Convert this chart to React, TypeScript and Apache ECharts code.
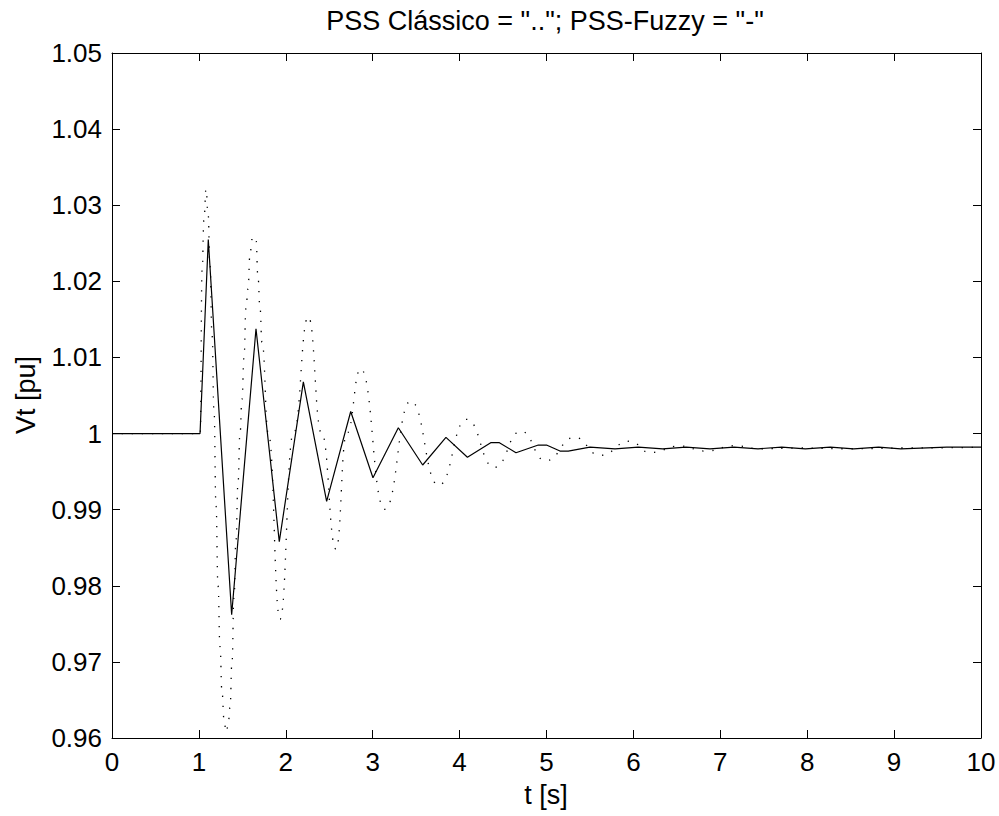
import React, { useEffect, useRef } from "react";
import * as echarts from "echarts";

const FONT = '"Liberation Sans", Arial, sans-serif';
const titleText = 'PSS Clássico = ".."; PSS-Fuzzy = "-"';
const xAxisName = "t [s]";
const yAxisName = "Vt [pu]";

// PSS Clássico (dotted)
const classicT = [
  0, 1.0, 1.015, 1.037, 1.058, 1.082, 1.105, 1.128, 1.151, 1.174, 1.197, 1.22, 1.243, 1.266, 1.289,
  1.312, 1.335, 1.358, 1.381, 1.404, 1.427, 1.45, 1.473, 1.496, 1.519, 1.542, 1.565, 1.588, 1.611,
  1.634, 1.657, 1.68, 1.703, 1.726, 1.799, 1.933, 2.087, 2.259, 2.413, 2.578, 2.7, 2.862, 3.138,
  3.437, 3.759, 4.081, 4.4, 4.706, 4.99, 5.324, 5.616, 5.96, 6.19, 6.54, 6.824, 7.169, 7.45, 7.9,
  8.5, 9.1, 10,
];
const classicV = [
  1.0, 1.0, 1.0, 1.0215, 1.028, 1.0321, 1.029, 1.022, 1.013, 1.003, 0.9905, 0.98, 0.972, 0.966,
  0.9625, 0.9608, 0.9615, 0.964, 0.97, 0.9785, 0.986, 0.9935, 1.0, 1.0045, 1.01, 1.0165, 1.019,
  1.0235, 1.0255, 1.0259, 1.0255, 1.0205, 1.0165, 1.012, 1.0, 0.9756, 1.0, 1.01535, 1.0, 0.9848,
  1.0, 1.0085, 0.99005, 1.00427, 0.9932, 1.00186, 0.99556, 1.0003, 0.99643, 0.9995, 0.99714,
  0.999, 0.9975, 0.99836, 0.9977, 0.9984, 0.998, 0.9981, 0.998, 0.9981, 0.9982,
];

// PSS-Fuzzy (solid)
const fuzzyT = [
  0, 1.013, 1.108, 1.377, 1.657, 1.925, 2.202, 2.47, 2.747, 3.003, 3.295, 3.575, 3.843, 4.09,
  4.358, 4.458, 4.649, 4.906, 5.0, 5.155, 5.25, 5.5, 5.788, 6.057, 6.337, 6.605, 6.881, 7.158,
  7.434, 7.707, 7.979, 8.266, 8.535, 8.822, 9.077, 9.605, 10,
];
const fuzzyV = [
  1.0, 1.0, 1.0255, 0.9762, 1.01377, 0.9858, 1.0068, 0.9911, 1.0029, 0.9942, 1.00076, 0.99587,
  0.9995, 0.99688, 0.9988, 0.9988, 0.99748, 0.99849, 0.99849, 0.9977, 0.9977, 0.99822, 0.998,
  0.99822, 0.998, 0.99822, 0.998, 0.99822, 0.998, 0.99822, 0.998, 0.99822, 0.998, 0.99822, 0.998,
  0.99822, 0.99822,
];

const zip = (a: number[], b: number[]) => a.map((t, i) => [t, b[i]]);

export default function App() {
  const ref = useRef<HTMLDivElement>(null);
  useEffect(() => {
    if (!ref.current) return;
    const chart = echarts.init(ref.current, undefined, { renderer: "svg" });
    const axisCommon = {
      axisLine: { show: true, onZero: false, lineStyle: { color: "#000", width: 1 } },
      axisTick: { show: true, inside: true, length: 8, lineStyle: { color: "#000", width: 1 } },
      splitLine: { show: false },
    };
    chart.setOption({
      animation: false,
      backgroundColor: "#fff",
      title: {
        text: titleText,
        left: 545,
        top: 7,
        padding: 0,
        textAlign: "center",
        textStyle: { fontFamily: FONT, fontSize: 27, fontWeight: "normal", color: "#000" },
      },
      grid: { left: 112, right: 18, top: 53, bottom: 78, containLabel: false },
      xAxis: [
        {
          type: "value",
          min: 0,
          max: 10,
          interval: 1,
          position: "bottom",
          ...axisCommon,
          axisLabel: { show: true, margin: 11, color: "#000", fontFamily: FONT, fontSize: 26 },
        },
        {
          type: "value",
          min: 0,
          max: 10,
          interval: 1,
          position: "top",
          ...axisCommon,
          axisLabel: { show: false },
        },
      ],
      yAxis: [
        {
          type: "value",
          min: 0.96,
          max: 1.05,
          interval: 0.01,
          position: "left",
          ...axisCommon,
          axisLabel: {
            show: true,
            margin: 10,
            color: "#000",
            fontFamily: FONT,
            fontSize: 26,
            formatter: (v: number) => String(parseFloat(v.toFixed(2))),
          },
        },
        {
          type: "value",
          min: 0.96,
          max: 1.05,
          interval: 0.01,
          position: "right",
          ...axisCommon,
          axisLabel: { show: false },
        },
      ],
      graphic: [
        {
          type: "text",
          x: 546,
          y: 795,
          style: {
            text: xAxisName,
            fontFamily: FONT,
            fontSize: 27,
            fill: "#000",
            align: "center",
            verticalAlign: "middle",
            textAlign: "center",
            textVerticalAlign: "middle",
          },
        },
        {
          type: "text",
          x: 26,
          y: 395,
          rotation: Math.PI / 2,
          style: {
            text: yAxisName,
            fontFamily: FONT,
            fontSize: 27,
            fill: "#000",
            align: "center",
            verticalAlign: "middle",
            textAlign: "center",
            textVerticalAlign: "middle",
          },
        },
      ],
      series: [
        {
          name: "PSS Clássico",
          type: "line",
          data: zip(classicT, classicV),
          symbol: "none",
          showSymbol: false,
          smooth: 0.5,
          smoothMonotone: "x",
          lineStyle: { color: "#000", width: 1.3, type: [1.3, 8.7] },
          z: 2,
        },
        {
          name: "PSS-Fuzzy",
          type: "line",
          data: zip(fuzzyT, fuzzyV),
          symbol: "none",
          showSymbol: false,
          lineStyle: { color: "#000", width: 1.2, type: "solid" },
          z: 3,
        },
      ],
    });
    return () => chart.dispose();
  }, []);
  return (
    <div
      ref={ref}
      style={{ position: "fixed", left: 0, top: 0, width: 999, height: 816, background: "#fff" }}
    />
  );
}
